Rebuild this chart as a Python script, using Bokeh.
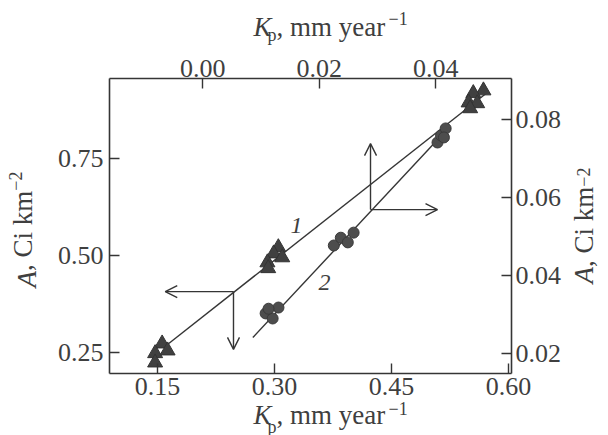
import json
import math
from bokeh.plotting import figure
from bokeh.models import (Range1d, LinearAxis, FixedTicker, PrintfTickFormatter,
                          CustomJSTickFormatter, Label, Arrow, OpenHead)
from bokeh.embed import file_html
from bokeh.resources import INLINE

# ---------------- data ----------------
# Series 1 (triangles): bottom axis Kp (mm/yr) vs left axis A (Ci/km2)
tri_kp = [0.156, 0.147, 0.163, 0.147,
          0.305, 0.299, 0.291, 0.310, 0.292,
          0.568, 0.555, 0.549, 0.560, 0.551]
tri_a = [0.273, 0.248, 0.255, 0.224,
         0.521, 0.505, 0.482, 0.495, 0.467,
         0.925, 0.918, 0.894, 0.892, 0.879]
# regression line 1
line1_kp = [0.158, 0.573]
line1_a = [0.263, 0.920]

# Series 2 (circles): top axis Kp vs right axis A
circ_kp = [0.0108, 0.0120, 0.0130, 0.0113,
           0.0225, 0.0237, 0.0249, 0.0259,
           0.0403, 0.0409, 0.0417, 0.0414]
circ_a = [0.0303, 0.0290, 0.0318, 0.0315,
          0.0477, 0.0497, 0.0485, 0.0510,
          0.0741, 0.0759, 0.0777, 0.0754]
# regression line 2
line2_kp = [0.0086, 0.0415]
line2_a = [0.0241, 0.0767]

# axis ticks
bottom_ticks = [0.15, 0.30, 0.45, 0.60]
left_ticks = [0.25, 0.50, 0.75]
top_ticks = [0.00, 0.02, 0.04]
right_ticks = [0.02, 0.04, 0.06, 0.08]

# axis titles, split by style: (text, italic?, small?)
kp_title = [("K", True, False), ("p", False, True),
            (", mm year", False, False), ("\u22121", False, True)]
a_title = [("A", True, False), (", Ci km", False, False), ("\u22122", False, True)]

# pointer arrows (junction, then ends) in each series' own axes
arrow1_join = (0.2475, 0.407)
arrow1_left_x = 0.160
arrow1_down_y = 0.258
arrow2_join = (0.0288, 0.0569)
arrow2_up_y = 0.0738
arrow2_right_x = 0.0403

# ---------------- layout ----------------
W, H = 608, 435
FL, FR, FT, FB = 109, 511, 78, 373
X0, X1 = 0.0885, 0.604
Y0, Y1 = 0.196, 0.956
TX0, TX1 = -0.016, 0.053
RY0, RY1 = 0.0149, 0.0905

FONT = "Liberation Serif"
TXT = "#3f3f3f"
INK = "#353535"
TICK_FS = 26
MAIN_FS = 27
SMALL_FS = 18
EXT = 1.06      # text box height / font size used by the axis layout
HANG = 0.65     # hanging-baseline height / font size


def jround(v):
    return math.floor(v + 0.5)


p = figure(width=W, height=H, output_backend="svg", toolbar_location=None,
           title_location=None,
           x_range=Range1d(X0, X1), y_range=Range1d(Y0, Y1),
           x_axis_location=None, y_axis_location=None,
           min_border_left=FL, min_border_right=W - FR,
           min_border_top=FT, min_border_bottom=H - FB)
p.extra_x_ranges = {"top": Range1d(TX0, TX1)}
p.extra_y_ranges = {"right": Range1d(RY0, RY1)}
p.grid.visible = False
p.outline_line_color = None
p.background_fill_color = "white"
p.border_fill_color = "white"


def style_axis(ax, ticks, standoff):
    ax.ticker = FixedTicker(ticks=ticks)
    ax.formatter = PrintfTickFormatter(format="%.2f")
    ax.axis_line_color = INK
    ax.axis_line_width = 1.6
    ax.major_tick_line_color = INK
    ax.major_tick_line_width = 1.4
    ax.major_tick_in = 10
    ax.major_tick_out = 0
    ax.minor_tick_line_color = None
    ax.major_label_text_font = FONT
    ax.major_label_text_font_size = f"{TICK_FS}px"
    ax.major_label_text_color = TXT
    ax.major_label_standoff = standoff


SO_B, SO_L, SO_T, SO_R = 4, 6, 2, 4
ax_b = LinearAxis()
style_axis(ax_b, bottom_ticks, SO_B)
p.add_layout(ax_b, "below")
ax_l = LinearAxis()
style_axis(ax_l, left_ticks, SO_L)
p.add_layout(ax_l, "left")
ax_t = LinearAxis(x_range_name="top")
style_axis(ax_t, top_ticks, SO_T)
p.add_layout(ax_t, "above")
ax_r = LinearAxis(y_range_name="right")
style_axis(ax_r, right_ticks, SO_R)
p.add_layout(ax_r, "right")

# thickness of the tick-label rows next to the frame
T_TOP = jround(EXT * TICK_FS + SO_T)
T_BOT = jround(EXT * TICK_FS + SO_B)
T_LEFT = jround(1.75 * TICK_FS + SO_L)

# lines
p.line(line1_kp, line1_a, line_color=INK, line_width=1.4)
p.line(line2_kp, line2_a, line_color=INK, line_width=1.4,
       x_range_name="top", y_range_name="right")

# markers
p.scatter(tri_kp, tri_a, marker="triangle", size=15,
          fill_color="#404040", line_color="#333333", line_width=1)
p.scatter(circ_kp, circ_a, marker="circle", size=11,
          fill_color="#4d4d4d", line_color="#3a3a3a", line_width=1,
          x_range_name="top", y_range_name="right")


# arrows
def add_arrow(x0, y0, x1, y1, **kw):
    p.add_layout(Arrow(end=OpenHead(size=12, line_color=INK, line_width=1.4),
                       x_start=x0, y_start=y0, x_end=x1, y_end=y1,
                       line_color=INK, line_width=1.4, **kw))


add_arrow(arrow1_join[0], arrow1_join[1], arrow1_left_x, arrow1_join[1])
add_arrow(arrow1_join[0], arrow1_join[1], arrow1_join[0], arrow1_down_y)
add_arrow(arrow2_join[0], arrow2_join[1], arrow2_join[0], arrow2_up_y,
          x_range_name="top", y_range_name="right")
add_arrow(arrow2_join[0], arrow2_join[1], arrow2_right_x, arrow2_join[1],
          x_range_name="top", y_range_name="right")


def px2x(px):
    return X0 + (px - FL) / (FR - FL) * (X1 - X0)


def py2y(py):
    return Y0 + (FB - py) / (FB - FT) * (Y1 - Y0)


# curve numbers (inside the frame)
for s, (cx, cy) in (("1", (296, 225)), ("2", (324, 282))):
    p.add_layout(Label(x=px2x(cx), y=py2y(cy), text=s, text_font=FONT,
                       text_font_size="24px", text_font_style="italic",
                       text_color=TXT, text_align="center",
                       text_baseline="middle"))


# ---- axis titles: each styled piece is the single tick label of a bare axis ----
def text_axis(text, italic, fs, pos, standoff, orientation=None):
    ax = LinearAxis(ticker=FixedTicker(ticks=[pos]),
                    formatter=CustomJSTickFormatter(code=f"return {json.dumps(text)};"))
    ax.axis_line_color = None
    ax.major_tick_line_color = None
    ax.minor_tick_line_color = None
    ax.major_tick_in = 0
    ax.major_tick_out = 0
    ax.major_label_text_font = FONT
    ax.major_label_text_font_size = f"{fs}px"
    ax.major_label_text_font_style = "italic" if italic else "normal"
    ax.major_label_text_color = TXT
    ax.major_label_standoff = standoff
    if orientation is not None:
        ax.major_label_orientation = orientation
    return ax


EM = {"K": 0.667, "p": 0.5, ", mm year": 4.027, "\u22121": 1.064,
      "A": 0.611, ", Ci km": 2.973, "\u22122": 1.064}


def kp_pieces(base, sub_dy, sup_dy):
    # (text, italic, font size, centre x, baseline y)
    x_pos = {"K": 253, "p": 267, ", mm year": 276, "\u22121": 388}
    out = []
    for t, it, sm in kp_title:
        fs = SMALL_FS if sm else MAIN_FS
        cx = x_pos[t] + EM[t] * fs / 2
        b = base + (sub_dy if t == "p" else sup_dy if sm else 0)
        out.append((t, it, fs, cx, b))
    return out


def a_pieces(y_start, base, sup_dx):
    # (text, italic, font size, centre y, baseline x)
    out = []
    y = y_start
    for t, it, sm in a_title:
        fs = SMALL_FS if sm else MAIN_FS
        w = EM[t] * fs
        out.append((t, it, fs, y - w / 2, base - (sup_dx if sm else 0)))
        y -= w
    return out


# bottom title: drawn from the "above" panel (alphabetic baseline at anchor)
for t, it, fs, cx, b in kp_pieces(421, 7, -15):
    s = jround(FT - T_TOP - b)
    p.add_layout(text_axis(t, it, fs, px2x(cx), s), "above")

# top title: drawn from the "below" panel (hanging baseline at anchor)
for t, it, fs, cx, b in kp_pieces(37, 7, -6):
    s = jround((b - HANG * fs) - FB - T_BOT)
    p.add_layout(text_axis(t, it, fs, px2x(cx), s), "below")

# right title: drawn from the "left" panel, reading upward
for t, it, fs, cy, b in a_pieces(283, 602, 9):
    s = jround(FL - T_LEFT - b)
    p.add_layout(text_axis(t, it, fs, py2y(cy), s, "vertical"), "left")

# left title: outside the left tick labels
xoff = T_LEFT
for t, it, fs, cy, b in a_pieces(287, 45, 12):
    s = jround(FL - xoff - b)
    xoff += max(jround(EXT * fs + s), 0)
    p.add_layout(text_axis(t, it, fs, py2y(cy), s, "vertical"), "left")

open("out.html", "w").write(file_html(p, INLINE))
